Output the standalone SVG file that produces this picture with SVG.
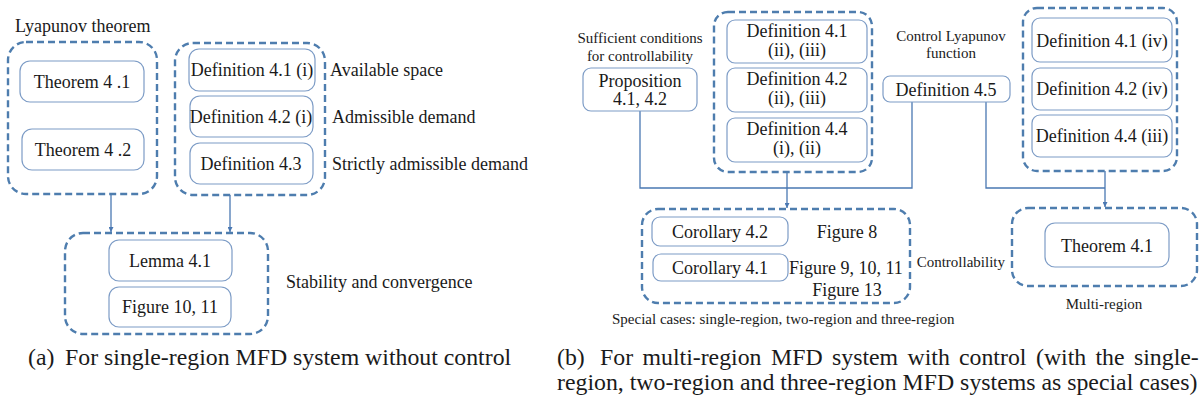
<svg xmlns="http://www.w3.org/2000/svg" width="1199" height="403" viewBox="0 0 1199 403">
<style>
.grp{fill:none;stroke:#4E7DAE;stroke-width:2.4;stroke-dasharray:7 4}
.box{fill:#fff;stroke:#7D9CC6;stroke-width:1.2}
.con{fill:none;stroke:#4A78B2;stroke-width:1.3}
.t{font-family:'Liberation Serif',serif;fill:#1a1a1a}
.a{font-size:18px}
.b{font-size:18px}
.s{font-size:15px}
.cap{font-size:23.8px}
.m{text-anchor:middle}
</style>
<defs>
<marker id="arr" viewBox="0 0 10 10" refX="10" refY="5" markerWidth="5" markerHeight="5" orient="auto" markerUnits="userSpaceOnUse">
<path d="M0,0 L10,5 L0,10 z" fill="#4A78B2"/>
</marker>
</defs>
<rect width="1199" height="403" fill="#fff"/>

<g id="connectors">
<line class="con" x1="111" y1="194" x2="111" y2="232" marker-end="url(#arr)"/>
<line class="con" x1="230" y1="195" x2="230" y2="232" marker-end="url(#arr)"/>
<polyline class="con" points="640,111 640,188 912,188 912,102"/>
<line class="con" x1="787" y1="172" x2="787" y2="208" marker-end="url(#arr)"/>
<polyline class="con" points="986,102 986,188 1105,188"/>
<line class="con" x1="1105" y1="171" x2="1105" y2="207" marker-end="url(#arr)"/>
</g>

<g id="lyapunov-group">
<rect class="grp" x="8" y="42" width="149" height="152" rx="18"/>
<text class="t a" x="15" y="32">Lyapunov theorem</text>
</g>
<g id="theorem41a"><rect class="box" x="20" y="61" width="124" height="41" rx="10"/><text class="t a m" x="82" y="88">Theorem 4 .1</text></g>
<g id="theorem42a"><rect class="box" x="22" y="129" width="122" height="41" rx="10"/><text class="t a m" x="83" y="156">Theorem 4 .2</text></g>

<g id="definitions-a-group"><rect class="grp" x="175" y="43" width="150" height="152" rx="18"/></g>
<g id="def41i"><rect class="box" x="189" y="49" width="126" height="42" rx="10"/><text class="t a m" x="252" y="76">Definition 4.1 (i)</text></g>
<g id="def42i"><rect class="box" x="190" y="96" width="123" height="41" rx="10"/><text class="t a m" x="251" y="123">Definition 4.2 (i)</text></g>
<g id="def43"><rect class="box" x="190" y="143" width="123" height="41" rx="10"/><text class="t a m" x="251" y="170">Definition 4.3</text></g>
<g id="labels-a">
<text class="t a" x="330" y="76">Available space</text>
<text class="t a" x="332" y="123">Admissible demand</text>
<text class="t a" x="332" y="170">Strictly admissible demand</text>
</g>

<g id="stability-group">
<rect class="grp" x="65" y="233" width="203" height="101" rx="18"/>
<text class="t a" x="286" y="288">Stability and convergence</text>
</g>
<g id="lemma41"><rect class="box" x="109" y="240" width="123" height="41" rx="10"/><text class="t a m" x="170" y="267">Lemma 4.1</text></g>
<g id="fig1011"><rect class="box" x="109" y="287" width="122" height="40" rx="10"/><text class="t a m" x="170" y="313">Figure 10, 11</text></g>

<g id="proposition">
<text class="t s m" x="640" y="43">Sufficient conditions</text>
<text class="t s m" x="640" y="61">for controllability</text>
<rect class="box" x="583" y="68" width="114" height="43" rx="8"/>
<text class="t b m" x="640" y="87">Proposition</text>
<text class="t b m" x="640" y="105">4.1, 4.2</text>
</g>

<g id="definitions-b-group"><rect class="grp" x="714" y="12" width="158" height="160" rx="14"/></g>
<g id="def41b"><rect class="box" x="727" y="20" width="140" height="43" rx="8"/><text class="t b m" x="797" y="37">Definition 4.1</text><text class="t b m" x="797" y="56">(ii), (iii)</text></g>
<g id="def42b"><rect class="box" x="727" y="68" width="140" height="44" rx="8"/><text class="t b m" x="797" y="85">Definition 4.2</text><text class="t b m" x="797" y="104">(ii), (iii)</text></g>
<g id="def44b"><rect class="box" x="727" y="118" width="140" height="44" rx="8"/><text class="t b m" x="797" y="135">Definition 4.4</text><text class="t b m" x="797" y="154">(i), (ii)</text></g>

<g id="def45">
<text class="t s m" x="951" y="41">Control Lyapunov</text>
<text class="t s m" x="951" y="58">function</text>
<rect class="box" x="883" y="76" width="127" height="26" rx="7"/>
<text class="t b m" x="946" y="96">Definition 4.5</text>
</g>

<g id="definitions-c-group"><rect class="grp" x="1023" y="8" width="154" height="163" rx="14"/></g>
<g id="def41iv"><rect class="box" x="1032" y="18" width="140" height="44" rx="8"/><text class="t b m" x="1102" y="47">Definition 4.1 (iv)</text></g>
<g id="def42iv"><rect class="box" x="1032" y="68" width="140" height="42" rx="8"/><text class="t b m" x="1102" y="95">Definition 4.2 (iv)</text></g>
<g id="def44iii"><rect class="box" x="1032" y="115" width="140" height="42" rx="8"/><text class="t b m" x="1102" y="142">Definition 4.4 (iii)</text></g>

<g id="special-group">
<rect class="grp" x="642" y="209" width="268" height="94" rx="16"/>
<text class="t b m" x="847" y="238">Figure 8</text>
<text class="t b" x="789" y="274">Figure 9, 10, 11</text>
<text class="t b m" x="847" y="296">Figure 13</text>
<text class="t s" x="612" y="324">Special cases: single-region, two-region and three-region</text>
<text class="t s" x="1005" y="267" text-anchor="end">Controllability</text>
</g>
<g id="cor42"><rect class="box" x="652" y="217" width="136" height="29" rx="8"/><text class="t b m" x="720" y="238">Corollary 4.2</text></g>
<g id="cor41"><rect class="box" x="653" y="254" width="135" height="27" rx="8"/><text class="t b m" x="720" y="274">Corollary 4.1</text></g>

<g id="multi-group">
<rect class="grp" x="1012" y="208" width="185" height="78" rx="16"/>
<text class="t s m" x="1104" y="309">Multi-region</text>
</g>
<g id="theorem41b"><rect class="box" x="1045" y="223" width="124" height="44" rx="10"/><text class="t b m" x="1107" y="252">Theorem 4.1</text></g>

<g id="captions">
<text class="t cap" x="28" y="365">(a)</text>
<text class="t cap" x="65" y="365">For single-region MFD system without control</text>
<text class="t cap" y="365"><tspan x="557">(b)</tspan><tspan x="600">For</tspan><tspan x="642.5">multi-region</tspan><tspan x="771">MFD</tspan><tspan x="832">system</tspan><tspan x="907.5">with</tspan><tspan x="959">control</tspan><tspan x="1036">(with</tspan><tspan x="1095.5">the</tspan><tspan x="1134">single-</tspan></text>
<text class="t cap" x="557" y="390">region, two-region and three-region MFD systems as special cases)</text>
</g>
</svg>
